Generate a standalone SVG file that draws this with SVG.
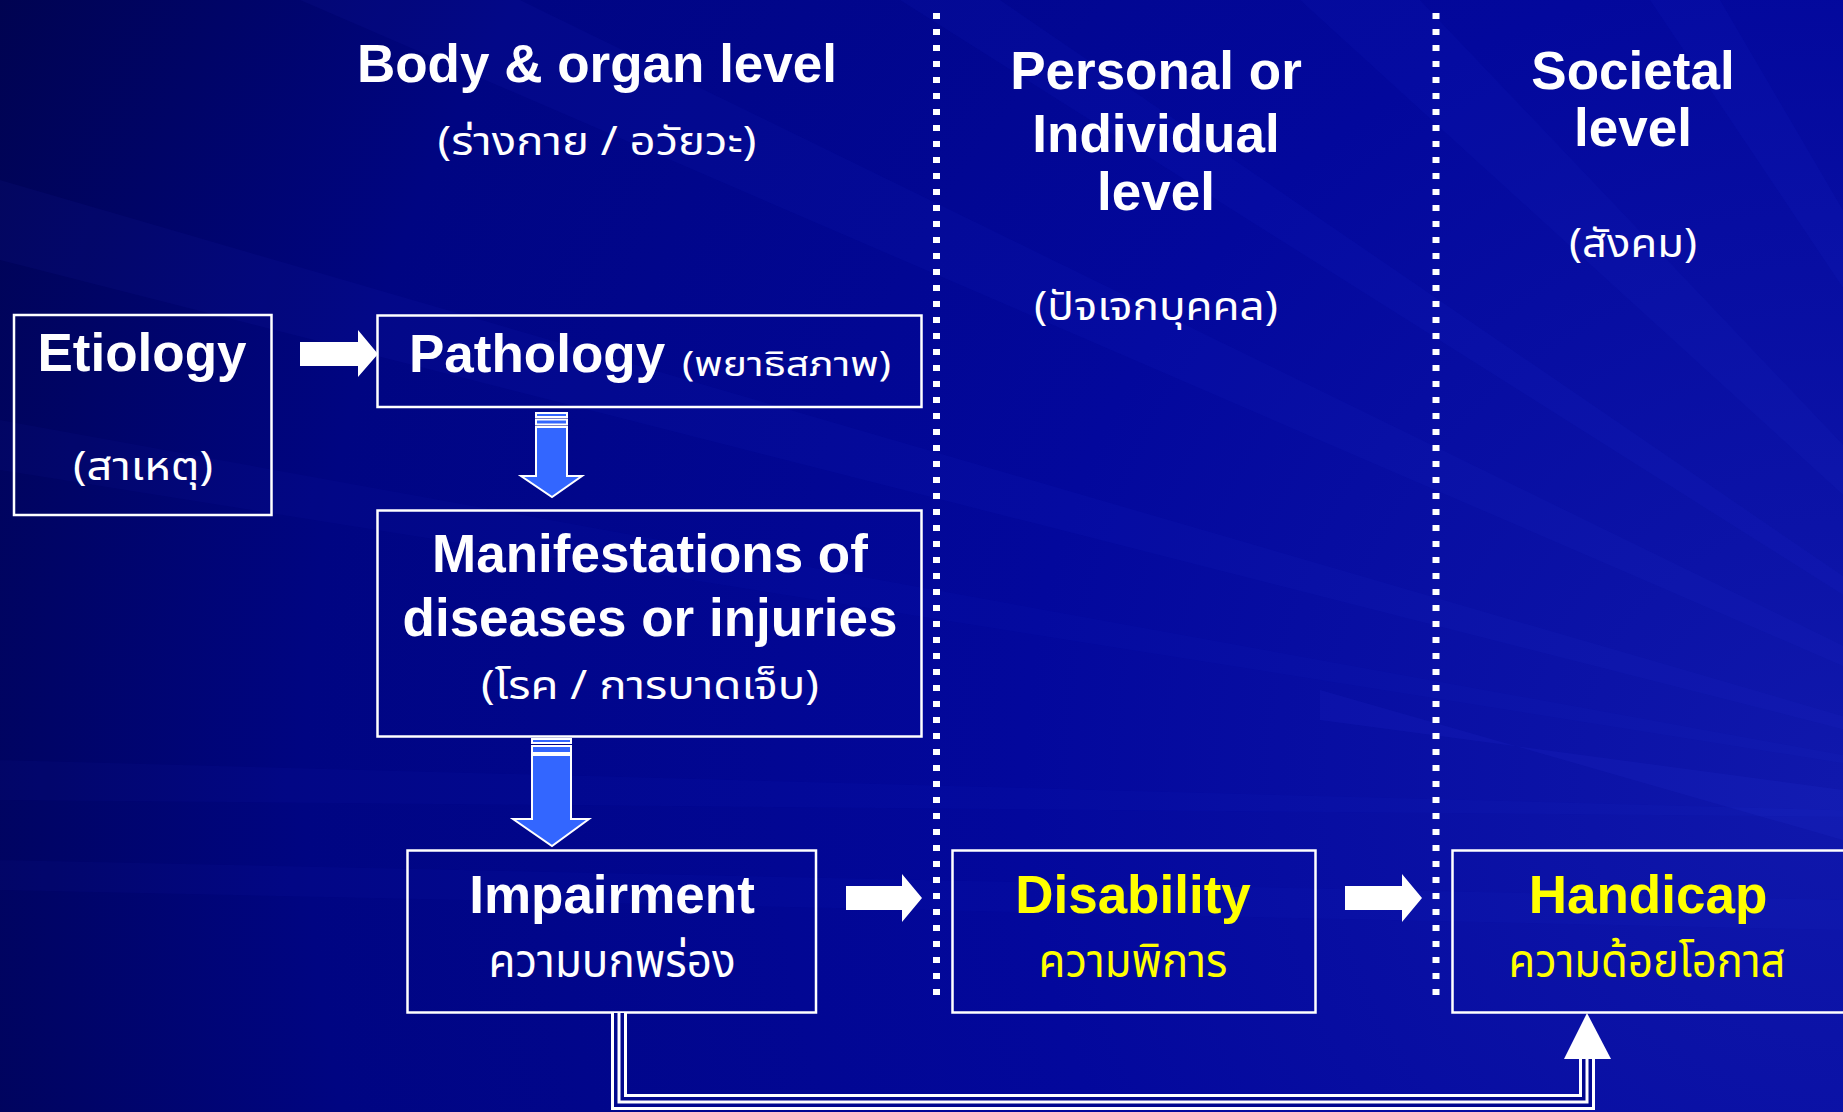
<svg xmlns="http://www.w3.org/2000/svg" width="1843" height="1112" viewBox="0 0 1843 1112">
<defs>
<radialGradient id="bg" cx="1843" cy="780" r="2050" gradientUnits="userSpaceOnUse">
<stop offset="0" stop-color="#1018ac"/>
<stop offset="0.4" stop-color="#03089c"/>
<stop offset="0.75" stop-color="#000582"/>
<stop offset="1" stop-color="#00034c"/>
</radialGradient>
<style>
.en{font-family:"Liberation Sans",Arial,sans-serif;font-weight:bold;font-size:53px;fill:#ffffff;text-anchor:middle}
.th{font-family:"Noto Sans Thai","Noto Serif Thai",Loma,Garuda,"Tlwg Typo",sans-serif;fill:#ffffff;text-anchor:middle}
.yel{fill:#ffff00}
.box{fill:none;stroke:#ffffff;stroke-width:2.5}
.rarrow{fill:#ffffff}
.darrow{fill:#3366ff;stroke:#ffffff;stroke-width:2}
.dots{stroke:#ffffff;stroke-width:7;stroke-dasharray:6 10;fill:none}
.ray{fill:#3a48ff}
</style>
</defs>
<rect width="1843" height="1112" fill="url(#bg)"/>
<g id="background-rays">
<polygon class="ray" points="2200,820 0,180 0,260" opacity="0.05"/>
<polygon class="ray" points="2200,820 300,0 520,0" opacity="0.05"/>
<polygon class="ray" points="2200,820 900,0 1000,0" opacity="0.06"/>
<polygon class="ray" points="2200,820 1300,0 1420,0" opacity="0.05"/>
<polygon class="ray" points="2200,820 1650,0 1720,0" opacity="0.06"/>
<polygon class="ray" points="2200,820 0,420 0,470" opacity="0.04"/>
<polygon class="ray" points="2200,820 0,760 0,800" opacity="0.04"/>
<polygon class="ray" points="1320,690 1843,840 1843,790 1320,720" opacity="0.08"/>
<polygon class="ray" points="0,860 1843,900 1843,930 0,890" opacity="0.04" fill="#000040"/>
</g>
<g id="dividers">
<line class="dots" x1="936.5" y1="13" x2="936.5" y2="997"/>
<line class="dots" x1="1436" y1="13" x2="1436" y2="997"/>
</g>
<g id="header-body">
<text class="en" x="597" y="82">Body &amp; organ level</text>
<text class="th" x="597" y="155" font-size="40" textLength="319" lengthAdjust="spacingAndGlyphs">(ร่างกาย / อวัยวะ)</text>
</g>
<g id="header-personal">
<text class="en" x="1156" y="89">Personal or</text>
<text class="en" x="1156" y="152">Individual</text>
<text class="en" x="1156" y="210">level</text>
<text class="th" x="1156" y="320" font-size="40" textLength="244" lengthAdjust="spacingAndGlyphs">(ปัจเจกบุคคล)</text>
</g>
<g id="header-societal">
<text class="en" x="1633" y="89">Societal</text>
<text class="en" x="1633" y="146">level</text>
<text class="th" x="1633" y="257" font-size="40" textLength="128" lengthAdjust="spacingAndGlyphs">(สังคม)</text>
</g>
<g id="node-etiology">
<rect class="box" x="14" y="315" width="257.5" height="200"/>
<text class="en" x="142" y="371">Etiology</text>
<text class="th" x="143" y="480" font-size="40" textLength="140" lengthAdjust="spacingAndGlyphs">(สาเหตุ)</text>
</g>
<g id="node-pathology">
<rect class="box" x="377.5" y="315.5" width="544" height="91.5"/>
<text class="en" x="409" y="372" style="text-anchor:start">Pathology</text>
<text class="th" x="786.5" y="376" font-size="34" textLength="209" lengthAdjust="spacingAndGlyphs">(พยาธิสภาพ)</text>
</g>
<g id="node-manifestations">
<rect class="box" x="377.5" y="510.5" width="544" height="226"/>
<text class="en" x="650" y="572">Manifestations of</text>
<text class="en" x="650" y="636">diseases or injuries</text>
<text class="th" x="650" y="699" font-size="40" textLength="338" lengthAdjust="spacingAndGlyphs">(โรค / การบาดเจ็บ)</text>
</g>
<g id="node-impairment">
<rect class="box" x="407.5" y="850.5" width="408.5" height="162"/>
<text class="en" x="612" y="913">Impairment</text>
<text class="th" x="612" y="977" font-size="46" textLength="247" lengthAdjust="spacingAndGlyphs">ความบกพร่อง</text>
</g>
<g id="node-disability">
<rect class="box" x="952.5" y="850.5" width="363" height="162"/>
<text class="en yel" x="1133" y="913">Disability</text>
<text class="th yel" x="1133" y="977" font-size="46" textLength="189" lengthAdjust="spacingAndGlyphs">ความพิการ</text>
</g>
<g id="node-handicap">
<rect class="box" x="1452.5" y="850.5" width="394" height="162"/>
<text class="en yel" x="1648" y="913">Handicap</text>
<text class="th yel" x="1647" y="977" font-size="46" textLength="277" lengthAdjust="spacingAndGlyphs">ความด้อยโอกาส</text>
</g>
<g id="connectors">
<polygon class="rarrow" points="300,342 358,342 358,330 378,354 358,377 358,366 300,366"/>
<polygon class="rarrow" points="846,886 902,886 902,874 922,898 902,922 902,910 846,910"/>
<polygon class="rarrow" points="1345,886 1402,886 1402,874 1422,898 1402,922 1402,910 1345,910"/>
<g class="darrow">
<rect x="536" y="413" width="31" height="4"/>
<rect x="536" y="419.5" width="31" height="5"/>
<polygon points="536,427 567,427 567,476 582,476 552,497 521,476 536,476"/>
<rect x="532" y="739" width="39" height="4"/>
<rect x="532" y="746" width="39" height="7"/>
<polygon points="532,755 571,755 571,819 589,819 552,846 513,819 532,819"/>
</g>
<path d="M619,1013 V1102 H1587 V1058" fill="none" stroke="#ffffff" stroke-width="16"/>
<path d="M619,1013 V1102 H1587 V1058" fill="none" stroke="#02088e" stroke-width="10"/>
<path d="M619,1013 V1102 H1587 V1058" fill="none" stroke="#ffffff" stroke-width="3"/>
<polygon class="rarrow" points="1587,1013 1611,1059 1564,1059"/>
</g>
</svg>
